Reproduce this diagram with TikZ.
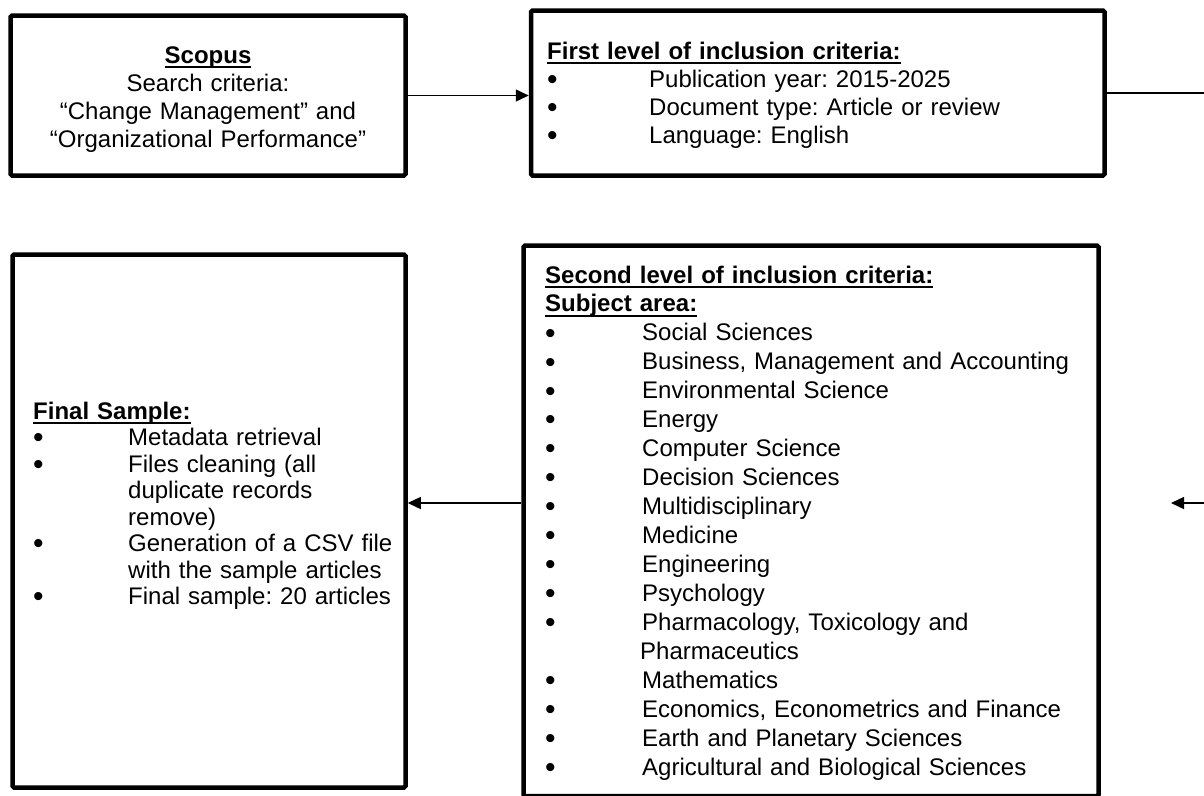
\documentclass[tikz,border=0pt]{standalone}
\usepackage{fontspec}
\setmainfont{Liberation Sans}
\usetikzlibrary{arrows.meta}
\frenchspacing

% underlined bold heading (underline ignores descenders)
\newlength\ulwidth
\newcommand\headline[1]{\leavevmode\settowidth{\ulwidth}{\textbf{#1}}%
  \rlap{\rule[-5pt]{\ulwidth}{2pt}}\textbf{#1}}
% list bullet, a little larger than the text bullet
\newcommand\listdot{\smash{\raisebox{-2.2pt}{\fontsize{30}{30}\selectfont\textbullet}}}
% bullet followed by a tab stop
\newlength\bulletcol
\newcommand\bulletrow[1]{\leavevmode\makebox[\bulletcol][l]{\listdot}#1}
\newcommand\hangrow[1]{\leavevmode\hspace*{\bulletcol}#1}

\begin{document}
\begin{tikzpicture}[x=1pt,y=-1pt,
  frame/.style={draw=black, line width=4.5pt, inner sep=0pt, rounded corners=1.5pt},
  txt/.style={inner sep=0pt, font=\fontsize{24}{28}\selectfont},
  conn/.style={draw=black, line width=1.4pt},
  tip/.style={-{Triangle[length=13pt,width=12pt]}}
]
\useasboundingbox (0,0) rectangle (1204,795);

% frames
\node[frame, minimum width=395pt, minimum height=160pt] (scopus) at (208,95.5) {};
\node[frame, minimum width=573.5pt, minimum height=165pt] (first) at (817.75,93) {};
\node[frame, minimum width=393pt, minimum height=533pt] (final) at (209,521) {};
\node[frame, minimum width=575pt, minimum height=550.5pt] (second) at (811,520.75) {};

% texts
\node[txt, anchor=base, align=center, text width=390pt] (scopustext) at (208,63)
  {\headline{Scopus}\\
   Search criteria:\\
   “Change Management” and\\
   “Organizational Performance”};

\node[txt, anchor=base west, align=left, text width=540pt] (firsttext) at (547,59)
  {\setlength\bulletcol{102pt}%
   \headline{First level of inclusion criteria:}\\
   \bulletrow{Publication year: 2015-2025}\\
   \bulletrow{Document type: Article or review}\\
   \bulletrow{Language: English}};

\node[txt, anchor=base west, align=left, text width=370pt,
      font=\fontsize{24}{26.5}\selectfont] (finaltext) at (33,419)
  {\setlength\bulletcol{95pt}%
   \headline{Final Sample:}\\
   \bulletrow{Metadata retrieval}\\
   \bulletrow{Files cleaning (all}\\
   \hangrow{duplicate records}\\
   \hangrow{remove)}\\
   \bulletrow{Generation of a CSV file}\\
   \hangrow{with the sample articles}\\
   \bulletrow{Final sample: 20 articles}};

\node[txt, anchor=base west, align=left, text width=545pt,
      font=\fontsize{24}{28.95}\selectfont] (secondtext) at (545,283)
  {\setlength\bulletcol{97pt}%
   \headline{Second level of inclusion criteria:}\\
   \headline{Subject area:}\\
   \bulletrow{Social Sciences}\\
   \bulletrow{Business, Management and Accounting}\\
   \bulletrow{Environmental Science}\\
   \bulletrow{Energy}\\
   \bulletrow{Computer Science}\\
   \bulletrow{Decision Sciences}\\
   \bulletrow{Multidisciplinary}\\
   \bulletrow{Medicine}\\
   \bulletrow{Engineering}\\
   \bulletrow{Psychology}\\
   \bulletrow{Pharmacology, Toxicology and}\\
   \leavevmode\hspace*{95pt}Pharmaceutics\\
   \bulletrow{Mathematics}\\
   \bulletrow{Economics, Econometrics and Finance}\\
   \bulletrow{Earth and Planetary Sciences}\\
   \bulletrow{Agricultural and Biological Sciences}};

% connectors
\coordinate (offA) at (1215,93);
\coordinate (offB) at (1215,503);
\coordinate (stopB) at (1171,503);
\draw[conn, tip] (scopus.east) -- (scopus.east -| first.west);
\draw[conn] (first.east) -- (offA);
\draw[conn, tip] (offB) -- (stopB);
\draw[conn, tip] (second.west |- offB) -- (final.east |- offB);
\end{tikzpicture}
\end{document}
